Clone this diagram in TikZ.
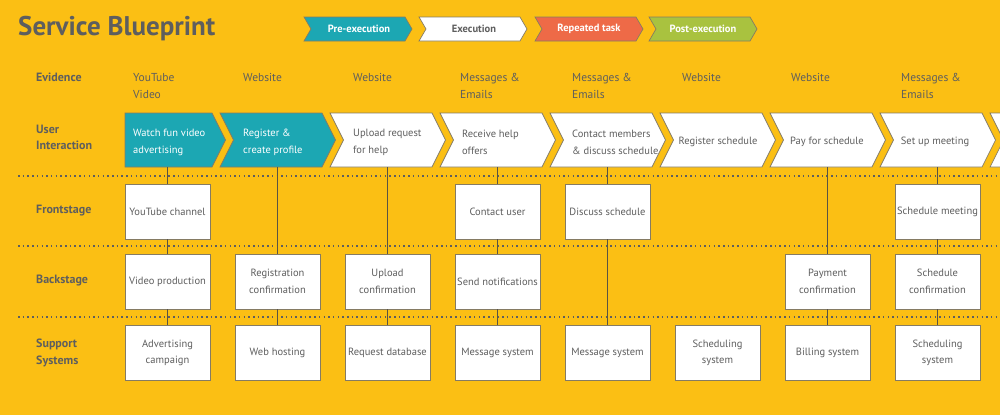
\documentclass[tikz,border=0pt]{standalone}
\usepackage{fontspec}
\setmainfont{PT Sans}
\definecolor{bgyellow}{HTML}{FBBF14}
\definecolor{tealc}{HTML}{1CA7B3}
\definecolor{orangec}{HTML}{EE6A47}
\definecolor{greenc}{HTML}{A9C23F}
\definecolor{textgrey}{HTML}{5E5E5E}
\definecolor{edgegrey}{HTML}{857B63}
\definecolor{linkgrey}{HTML}{5A5442}

% body chevron with its top-left corner at x = #2
\newcommand\bodychev[2]{%
  \path[#1] (#2,113) -- ++(102,0) -- ++(13.5,27) -- ++(-13.5,27) -- ++(-102,0) -- ++(13.5,-27) -- cycle;}
% small legend chevron with its top-left corner at x = #2
\newcommand\legchev[2]{%
  \path[#1] (#2,17) -- ++(101,0) -- ++(7,12) -- ++(-7,12) -- ++(-101,0) -- ++(7,-12) -- cycle;}

\begin{document}
\begin{tikzpicture}[x=1pt,y=-1pt,
  chev/.style={fill=#1, draw=edgegrey, line width=0.7pt},
  legtext/.style={font=\bfseries\fontsize{10.5}{12}\selectfont, inner sep=0},
  rowlabel/.style={font=\bfseries\fontsize{12}{16.5}\selectfont, text=textgrey, anchor=west, align=left, inner sep=0},
  evtext/.style={font=\fontsize{11.5}{17}\selectfont, text=textgrey, anchor=north west, align=left, inner sep=0},
  ctext/.style={font=\fontsize{10.5}{17}\selectfont, text=textgrey, align=left, inner sep=0, minimum height=50pt},
  stepbox/.style={draw=edgegrey, fill=white, line width=0.9pt, minimum width=85pt, minimum height=55pt,
    inner sep=0, align=center, font=\fontsize{10.5}{16.5}\selectfont, text=textgrey},
  lane/.style={draw=textgrey, line width=1.6pt, dash pattern=on 1.5pt off 3.2pt},
  link/.style={draw=linkgrey, line width=1.2pt}]

\useasboundingbox (0,0) rectangle (1000,415);
\clip (0,0) rectangle (1000,415);
\fill[bgyellow] (0,0) rectangle (1000,415);

% title
\node[font=\bfseries\fontsize{27}{30}\selectfont, text=textgrey, anchor=west, inner sep=0] (title) at (18,29) {Service Blueprint};

% legend
\legchev{chev=tealc}{304}
\legchev{chev=white}{419}
\legchev{chev=orangec}{535}
\legchev{chev=greenc}{649}
\node[legtext, text=white] (lg1) at (359,29) {Pre-execution};
\node[legtext, text=textgrey] (lg2) at (474,29) {Execution};
\node[legtext, text=white] (lg3) at (589,29) {Repeated task};
\node[legtext, text=white] (lg4) at (703,29) {Post-execution};

% swimlane separators
\draw[lane] (18,176) -- (1000,176);
\draw[lane] (18,246) -- (1000,246);
\draw[lane] (18,317) -- (1000,317);

% row labels
\node[rowlabel] (rEv) at (36,77) {Evidence};
\node[rowlabel] (rUI) at (36,137.5) {User\\Interaction};
\node[rowlabel] (rFS) at (36,211) {Frontstage};
\node[rowlabel] (rBS) at (36,281) {Backstage};
\node[rowlabel] (rSS) at (36,353) {Support\\Systems};

% evidence
\node[evtext] (e1) at (133,73) {YouTube\\Video};
\node[evtext] (e2) at (243,73) {Website};
\node[evtext] (e3) at (353,73) {Website};
\node[evtext] (e4) at (460,73) {Messages \&\\Emails};
\node[evtext] (e5) at (572,73) {Messages \&\\Emails};
\node[evtext] (e6) at (682,73) {Website};
\node[evtext] (e7) at (791,73) {Website};
\node[evtext] (e8) at (901,73) {Messages \&\\Emails};

% user interaction chevrons
\path[chev=tealc] (125,113) -- (212,113) -- (225.5,140) -- (212,167) -- (125,167) -- cycle;
\bodychev{chev=tealc}{220}
\bodychev{chev=white}{330}
\bodychev{chev=white}{440}
\bodychev{chev=white}{550}
\bodychev{chev=white}{660}
\bodychev{chev=white}{770}
\bodychev{chev=white}{880}
\bodychev{chev=white}{990}

\node[ctext, text=white, anchor=north west] (u1) at (133,117) {Watch fun video\\advertising};
\node[ctext, text=white, anchor=north west] (u2) at (243,117) {Register \&\\create profile};
\node[ctext, anchor=north west] (u3) at (353,117) {Upload request\\for help};
\node[ctext, anchor=north west] (u4) at (462,117) {Receive help\\offers};
\node[ctext, anchor=north west] (u5) at (572,117) {Contact members\\\& discuss schedule};
\node[ctext] (u6) at (718,142) {Register schedule};
\node[ctext] (u7) at (827,142) {Pay for schedule};
\node[ctext] (u8) at (935,142) {Set up meeting};

% frontstage
\node[stepbox] (f1) at (167.5,211.5) {YouTube channel};
\node[stepbox] (f4) at (497.5,211.5) {Contact user};
\node[stepbox] (f5) at (607.5,211.5) {Discuss schedule};
\node[stepbox] (f8) at (937.5,211.5) {Schedule meeting};

% backstage
\node[stepbox] (b1) at (167.5,281.5) {Video production};
\node[stepbox] (b2) at (277.5,281.5) {Registration\\confirmation};
\node[stepbox] (b3) at (387.5,281.5) {Upload\\confirmation};
\node[stepbox] (b4) at (497.5,281.5) {Send notifications};
\node[stepbox] (b7) at (827.5,281.5) {Payment\\confirmation};
\node[stepbox] (b8) at (937.5,281.5) {Schedule\\confirmation};

% support systems
\node[stepbox] (s1) at (167.5,353) {Advertising\\campaign};
\node[stepbox] (s2) at (277.5,353) {Web hosting};
\node[stepbox] (s3) at (387.5,353) {Request database};
\node[stepbox] (s4) at (497.5,353) {Message system};
\node[stepbox] (s5) at (607.5,353) {Message system};
\node[stepbox] (s6) at (717.5,353) {Scheduling\\system};
\node[stepbox] (s7) at (827.5,353) {Billing system};
\node[stepbox] (s8) at (937.5,353) {Scheduling\\system};

% links between layers
\draw[link] (f1.north |- u1.south) -- (f1.north);
\draw[link] (f1.south) -- (b1.north);
\draw[link] (b1.south) -- (s1.north);
\draw[link] (b2.north |- u2.south) -- (b2.north);
\draw[link] (b2.south) -- (s2.north);
\draw[link] (b3.north |- u3.south) -- (b3.north);
\draw[link] (b3.south) -- (s3.north);
\draw[link] (f4.north |- u4.south) -- (f4.north);
\draw[link] (f4.south) -- (b4.north);
\draw[link] (b4.south) -- (s4.north);
\draw[link] (f5.north |- u5.south) -- (f5.north);
\draw[link] (f5.south) -- (s5.north);
\draw[link] (b7.north |- u7.south) -- (b7.north);
\draw[link] (b7.south) -- (s7.north);
\draw[link] (f8.north |- u8.south) -- (f8.north);
\draw[link] (f8.south) -- (b8.north);
\draw[link] (b8.south) -- (s8.north);
\end{tikzpicture}
\end{document}
